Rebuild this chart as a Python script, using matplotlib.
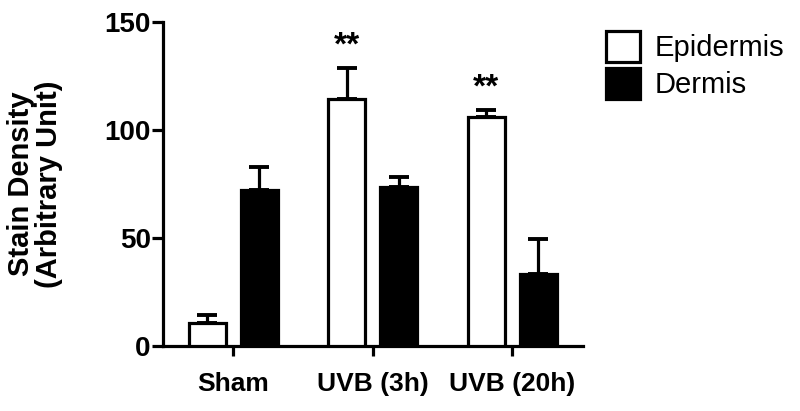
import matplotlib
matplotlib.use("Agg")
import matplotlib.pyplot as plt
import numpy as np

plt.rcParams['font.family'] = ['Liberation Sans', 'DejaVu Sans']

# data
groups = ['Sham', 'UVB (3h)', 'UVB (20h)']
epidermis = [10.8, 114.4, 106.2]
epidermis_err = [3.5, 14.4, 3.1]
dermis = [72.2, 73.8, 33.4]
dermis_err = [10.8, 4.6, 16.0]
stars = ['', '**', '**']

x = np.arange(len(groups))
w = 0.265
off = 0.187
lw = 2.3

fig = plt.figure(figsize=(8.0, 4.11), dpi=100)
ax = fig.add_axes([0.204, 0.158, 0.525, 0.788])

ax.bar(x - off, epidermis, w, color='white', edgecolor='black', linewidth=lw,
       label='Epidermis', zorder=3)
ax.bar(x + off, dermis, w, color='black', edgecolor='black', linewidth=lw,
       label='Dermis', zorder=3)

# upward-only error bars
ekw = dict(fmt='none', ecolor='black', elinewidth=lw, capsize=7.5, capthick=lw + 0.5, zorder=2)
ax.errorbar(x - off, epidermis, yerr=[np.zeros(3), epidermis_err], **ekw)
ax.errorbar(x + off, dermis, yerr=[np.zeros(3), dermis_err], **ekw)

# significance marks above the epidermis bars
for xi, v, e, s in zip(x, epidermis, epidermis_err, stars):
    if s:
        ax.text(xi - off, v + e + 3, s, ha='center', va='bottom',
                fontsize=24, fontweight='bold')

ax.set_xlim(-0.502, 2.509)
ax.set_ylim(0, 150)
ax.set_yticks([0, 50, 100, 150])
ax.set_xticks(x)
ax.set_xticklabels(groups)
for sp in ['top', 'right']:
    ax.spines[sp].set_visible(False)
for sp in ['left', 'bottom']:
    ax.spines[sp].set_linewidth(lw)
ax.tick_params(axis='y', length=8, width=lw, labelsize=20, pad=1)
ax.tick_params(axis='x', length=7, width=lw, labelsize=19, pad=12)
for t in ax.get_xticklabels() + ax.get_yticklabels():
    t.set_fontweight('bold')

ax.set_ylabel('Stain Density\n(Arbitrary Unit)', fontsize=21, fontweight='bold',
              linespacing=1.0, labelpad=30)

leg = ax.legend(loc='upper left', bbox_to_anchor=(0.758, 0.925),
                bbox_transform=fig.transFigure, frameon=False, fontsize=21,
                handlelength=1.15, handleheight=1.25, labelspacing=0.2,
                handletextpad=0.5, borderaxespad=0, borderpad=0)

fig.savefig('out.png', dpi=100)
